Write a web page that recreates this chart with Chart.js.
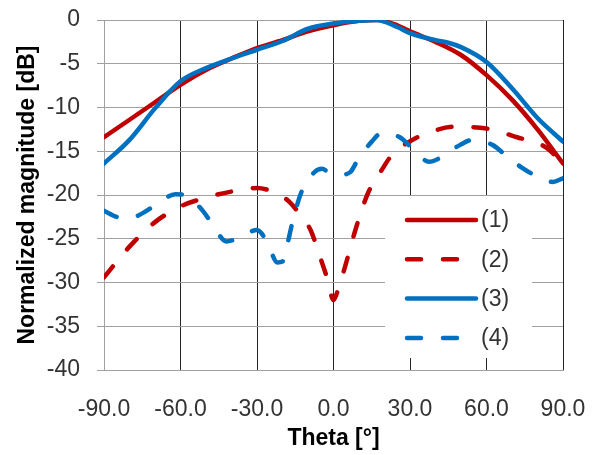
<!DOCTYPE html>
<html>
<head>
<meta charset="utf-8">
<script src="https://cdn.jsdelivr.net/npm/chart.js@4"></script>
<style>
  body { margin: 0; background: #fff; }
  #wrap { width: 599px; height: 455px; }
</style>
</head>
<body>
<div id="wrap"><canvas id="myChart" width="599" height="455"></canvas></div>
<script>
// series names as shown in the legend
const seriesNames = ["(1)", "(2)", "(3)", "(4)"];

// (1) red solid
const theta1 = [-90, -80, -70, -60, -50, -40, -30, -20, -10, 0, 10, 17, 25, 30, 40, 50, 60, 70, 80, 90];
const mag1 = [-13.4, -11.4, -9.4, -7.4, -5.7, -4.4, -3.2, -2.3, -1.3, -0.6, -0.1, 0, -0.6, -1.3, -2.5, -4.0, -6.3, -9.1, -12.5, -16.4];

// (2) red dashed
const theta2 = [-90, -80, -70, -60, -50, -40, -30, -24, -18, -14, -9, -5, -2.5, 0, 2, 5.5, 9, 13.5, 19, 23, 31, 38, 47, 60, 72, 83, 90];
const mag2 = [-29.4, -25.9, -23.1, -21.3, -20.3, -19.6, -19.2, -19.6, -20.6, -21.9, -24.0, -27.3, -29.5, -32.0, -30.6, -27.2, -23.6, -19.8, -17.1, -15.4, -13.7, -12.8, -12.2, -12.4, -13.4, -14.5, -16.4];

// (3) blue solid
const theta3 = [-90, -80, -70, -60, -50, -40, -30, -20, -10, 0, 10, 17, 25, 30, 40, 45, 50, 60, 70, 80, 90];
const mag3 = [-16.4, -13.7, -10.1, -7.0, -5.5, -4.4, -3.4, -2.4, -1.0, -0.4, -0.1, 0, -0.8, -1.5, -2.3, -2.6, -3.1, -4.8, -7.8, -11.2, -13.9];

// (4) blue dashed
const theta4 = [-90, -85, -80, -75, -69, -62, -57, -51, -47, -42, -37, -30, -26, -22, -20, -18, -16, -12.5, -7.5, -4.5, -1.5, 2, 6.5, 9.5, 15, 19, 26, 31, 37.5, 41.5, 49.5, 54.5, 62.5, 66.5, 74, 80, 86, 90];
const mag4 = [-21.8, -22.5, -22.7, -22.1, -21.0, -19.9, -20.2, -21.9, -23.6, -25.3, -24.9, -24.0, -25.4, -27.7, -27.6, -25.5, -23.0, -19.6, -17.4, -17.0, -17.5, -17.7, -17.4, -16.0, -13.9, -12.9, -13.4, -14.7, -16.2, -15.8, -14.3, -13.7, -14.3, -15.2, -16.9, -17.9, -18.5, -18.1];

const red = "#C00000";
const blue = "#0070C0";
const dash = [14, 22];

const pts = (xs, ys) => xs.map((x, i) => ({x: x, y: ys[i]}));

const makeSet = (label, xs, ys, color, dashed, order) => ({
  label: label,
  data: pts(xs, ys),
  borderColor: color,
  backgroundColor: color,
  borderWidth: 4.5,
  borderDash: dashed ? dash : [],
  borderCapStyle: "round",
  borderJoinStyle: "round",
  pointRadius: 0,
  cubicInterpolationMode: "monotone",
  fill: false,
  order: order
});

const data = {
  datasets: [
    makeSet(seriesNames[0], theta1, mag1, red, false, 1),
    makeSet(seriesNames[1], theta2, mag2, red, true, 3),
    makeSet(seriesNames[2], theta3, mag3, blue, false, 0),
    makeSet(seriesNames[3], theta4, mag4, blue, true, 2)
  ]
};

// legend drawn inside the plot, on a white box
const boxLegend = {
  id: "boxLegend",
  afterDatasetsDraw(chart) {
    const ctx = chart.ctx;
    const a = chart.chartArea;
    const x0 = a.left + 281, y0 = a.top + 176;
    ctx.save();
    ctx.fillStyle = "#fff";
    ctx.fillRect(x0, y0, 147, 162);
    chart.data.datasets.forEach((ds, i) => {
      const y = y0 + 24 + i * 39.3;
      ctx.beginPath();
      ctx.strokeStyle = ds.borderColor;
      ctx.lineWidth = 4.5;
      ctx.lineCap = "round";
      ctx.setLineDash(ds.borderDash);
      ctx.moveTo(x0 + 22, y);
      ctx.lineTo(x0 + 91, y);
      ctx.stroke();
      ctx.setLineDash([]);
      ctx.fillStyle = "#333";
      ctx.font = "23px 'Liberation Sans'";
      ctx.textBaseline = "middle";
      ctx.textAlign = "left";
      ctx.fillText(ds.label, x0 + 96, y + 1);
    });
    ctx.restore();
  }
};

const config = {
  type: "line",
  data,
  options: {
    responsive: false,
    animation: false,
    layout: { padding: { top: 20, right: 36, left: 0, bottom: 0 } },
    plugins: { legend: { display: false }, tooltip: { enabled: false } },
    scales: {
      x: {
        type: "linear",
        min: -90,
        max: 90,
        afterFit: (s) => { s.height = 85; s.paddingLeft = 0; s.paddingRight = 0; },
        ticks: {
          stepSize: 30,
          color: "#333",
          font: { family: "'Liberation Sans'", size: 23 },
          padding: 26,
          maxRotation: 0,
          callback: (v) => v.toFixed(1)
        },
        grid: {
          drawTicks: false,
          color: (c) => (c.tick && c.tick.value === -90 ? "#a0a0a0" : "#262626"),
          lineWidth: 1
        },
        border: { color: "#a0a0a0" },
        title: {
          display: true,
          text: "Theta [°]",
          color: "#000",
          font: { family: "'Liberation Sans'", size: 23, weight: "bold" },
          padding: { top: 0, bottom: 3 }
        }
      },
      y: {
        min: -40,
        max: 0,
        afterFit: (s) => { s.width = 104; s.paddingTop = 0; s.paddingBottom = 0; },
        ticks: {
          stepSize: 5,
          color: "#333",
          font: { family: "'Liberation Sans'", size: 23 },
          padding: 17
        },
        grid: {
          color: "#a0a0a0",
          lineWidth: 1,
          tickLength: 7
        },
        border: { color: "#a0a0a0" },
        title: {
          display: true,
          text: "Normalized magnitude [dB]",
          color: "#000",
          font: { family: "'Liberation Sans'", size: 23, weight: "bold" },
          padding: { top: 14, bottom: 0 }
        }
      }
    }
  },
  plugins: [boxLegend]
};

let ctx = document.getElementById("myChart");
let myChart = new Chart(ctx, config);
</script>
</body>
</html>
